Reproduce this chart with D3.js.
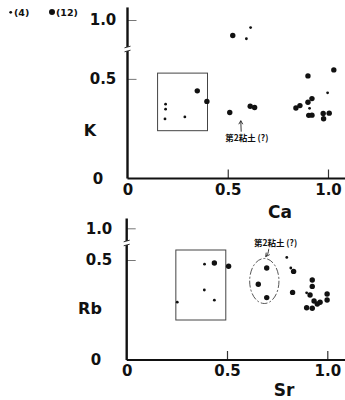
<!DOCTYPE html>
<html>
<head>
<meta charset="utf-8">
<script src="https://cdn.jsdelivr.net/npm/d3@7"></script>
<style>
  html, body { margin: 0; padding: 0; background: #fff; }
  svg { display: block; }
  text { font-family: "DejaVu Sans", sans-serif; fill: #111; }
</style>
</head>
<body>
<svg id="chart" width="345" height="400"></svg>
<script>
// ---------- data ----------
// Top panel: K vs Ca
const caSmall = [0.190, 0.190, 0.187, 0.286, 0.593, 0.614, 0.908, 0.998];
const kSmall  = [0.373, 0.348, 0.299, 0.309, 0.903, 0.961, 0.352, 0.430];
const caBig = [0.348, 0.396, 0.510, 0.612, 0.634, 0.525, 0.900, 1.029, 0.920, 0.900, 0.860, 0.840, 0.904, 0.920, 0.976, 1.006, 0.978];
const kBig  = [0.440, 0.387, 0.331, 0.363, 0.356, 0.920, 0.515, 0.545, 0.401, 0.383, 0.366, 0.354, 0.317, 0.318, 0.326, 0.328, 0.300];
const caBox = [0.150, 0.399];
const kBox  = [0.240, 0.529];

// Bottom panel: Rb vs Sr
const srSmall = [0.388, 0.387, 0.437, 0.252, 0.798, 0.818, 0.897];
const rbSmall = [0.479, 0.350, 0.299, 0.289, 0.513, 0.460, 0.336];
const srBig = [0.437, 0.508, 0.698, 0.656, 0.698, 0.832, 0.827, 0.925, 0.925, 0.914, 0.934, 0.950, 0.964, 0.999, 0.999, 0.897, 0.925];
const rbBig = [0.485, 0.469, 0.460, 0.379, 0.312, 0.443, 0.338, 0.400, 0.368, 0.325, 0.295, 0.280, 0.289, 0.330, 0.300, 0.261, 0.259];
const srBox = [0.245, 0.494];
const rbBox = [0.200, 0.550];
const srEllipse = [0.686, 0.073];   // centre, half-width
const rbEllipse = [0.395, 0.1125];  // centre, half-height

const xTicks = [0, 0.5, 1.0];
const xTickLabels = ["0", "0.5", "1.0"];
const yTicks = [0, 0.5, 1.0];
const yTickLabels = ["0", "0.5", "1.0"];
const legendLabels = ["(4)", "(12)"];
const noteText = "第2粘土 (?)";

// ---------- drawing ----------
const svg = d3.select("#chart");

function panel(cfg) {
  const g = svg.append("g");
  const x = cfg.x, y = cfg.y;

  // x axis (ticks upward)
  const xAxis = d3.axisBottom(x).tickValues(xTicks)
    .tickFormat((d, i) => xTickLabels[i]).tickSize(-9).tickPadding(5);
  const gx = g.append("g").attr("transform", `translate(0,${y(0)})`).call(xAxis);
  gx.select(".domain").remove();
  gx.selectAll(".tick line").attr("stroke", "#333").attr("stroke-width", 1.2)
    .filter(d => d === 0).remove();
  gx.selectAll(".tick text").attr("font-size", 15).attr("font-weight", "bold")
    .attr("dy", "0.75em").attr("fill", "#111");
  g.append("line").attr("x1", x(0)).attr("x2", 345).attr("y1", y(0)).attr("y2", y(0))
    .attr("stroke", "#111").attr("stroke-width", 2.2);

  // y axis (ticks rightward)
  const yAxis = d3.axisLeft(y).tickValues(yTicks)
    .tickFormat((d, i) => yTickLabels[i]).tickSize(-9).tickPadding(0);
  const gy = g.append("g").attr("transform", `translate(${x(0)},0)`).call(yAxis);
  gy.select(".domain").remove();
  gy.selectAll(".tick line").attr("stroke", "#777").attr("stroke-width", 1)
    .filter(d => d === 0).remove();
  gy.selectAll(".tick text").attr("font-size", 15).attr("font-weight", "bold")
    .attr("text-anchor", "middle").attr("fill", "#111")
    .attr("x", d => d === 0 ? cfg.zeroX - x(0) : cfg.labX - x(0));

  // y axis line with break
  const yb = cfg.breakY;
  g.append("line").attr("x1", x(0)).attr("x2", x(0)).attr("y1", y(0)).attr("y2", yb + 2)
    .attr("stroke", "#111").attr("stroke-width", 2.4);
  g.append("line").attr("x1", x(0)).attr("x2", x(0)).attr("y1", yb - 2).attr("y2", cfg.axisTop)
    .attr("stroke", "#111").attr("stroke-width", 2.4);
  [yb - 2, yb + 2].forEach(v => {
    g.append("line").attr("x1", x(0) - 3).attr("x2", x(0) + 3).attr("y1", v + 0.8).attr("y2", v - 0.8)
      .attr("stroke", "#333").attr("stroke-width", 1);
  });

  // labels
  g.append("text").attr("x", cfg.yLabelX).attr("y", cfg.yLabelY).attr("text-anchor", "middle")
    .attr("dy", "0.36em").attr("font-size", 16).attr("font-weight", "bold").text(cfg.yLabel);
  g.append("text").attr("x", cfg.xLabelX).attr("y", cfg.xLabelY).attr("text-anchor", "middle")
    .attr("dy", "0.36em").attr("font-size", 17).attr("font-weight", "bold").text(cfg.xLabel);

  // box
  g.append("rect")
    .attr("x", x(cfg.boxX[0])).attr("y", y(cfg.boxY[1]))
    .attr("width", x(cfg.boxX[1]) - x(cfg.boxX[0]))
    .attr("height", y(cfg.boxY[0]) - y(cfg.boxY[1]))
    .attr("fill", "none").attr("stroke", "#444").attr("stroke-width", 1);

  // points
  g.selectAll(".sm").data(cfg.xs.map((v, i) => [v, cfg.ys[i]])).join("circle")
    .attr("cx", d => x(d[0])).attr("cy", d => y(d[1])).attr("r", 1.4).attr("fill", "#111");
  g.selectAll(".bg").data(cfg.xb.map((v, i) => [v, cfg.yb[i]])).join("circle")
    .attr("cx", d => x(d[0])).attr("cy", d => y(d[1])).attr("r", 2.7).attr("fill", "#111");
  return g;
}

// Top panel scales
const xTop = d3.scaleLinear().domain([0, 1]).range([127.5, 328]);
const yTop = d3.scaleLinear().domain([0, 0.65, 0.85, 1.0]).range([178.5, 49, 49, 20]);
const gTop = panel({
  x: xTop, y: yTop, breakY: yTop(0.75), axisTop: yTop(1.065),
  labX: 103, zeroX: 98, yLabel: "K", yLabelX: 90, yLabelY: 130,
  xLabel: "Ca", xLabelX: 280, xLabelY: 212,
  boxX: caBox, boxY: kBox, xs: caSmall, ys: kSmall, xb: caBig, yb: kBig
});

// Top annotation
gTop.append("text").attr("x", xTop(0.595)).attr("y", yTop(0.203)).attr("text-anchor", "middle")
  .attr("dy", "0.36em").attr("font-size", 8.5).attr("font-weight", "bold")
  .style("font-family", "'Noto Sans CJK JP', sans-serif").text(noteText);
gTop.append("path")
  .attr("d", d3.line()([[xTop(0.567), yTop(0.235)], [xTop(0.565), yTop(0.29)]]))
  .attr("stroke", "#222").attr("stroke-width", 0.9).attr("fill", "none");
gTop.append("path")
  .attr("d", d3.line()([[xTop(0.565) - 2, yTop(0.29) + 3.5], [xTop(0.565), yTop(0.29)], [xTop(0.565) + 2, yTop(0.29) + 3.5]]))
  .attr("stroke", "#222").attr("stroke-width", 0.9).attr("fill", "none");

// Bottom panel scales
const xBot = d3.scaleLinear().domain([0, 1]).range([126.7, 327.3]);
const yBot = d3.scaleLinear().domain([0, 0.585, 0.925, 1.0]).range([360, 243, 243, 228.3]);
const gBot = panel({
  x: xBot, y: yBot, breakY: 243, axisTop: yBot(1.05),
  labX: 99, zeroX: 96, yLabel: "Rb", yLabelX: 90, yLabelY: 308,
  xLabel: "Sr", xLabelX: 284, xLabelY: 390,
  boxX: srBox, boxY: rbBox, xs: srSmall, ys: rbSmall, xb: srBig, yb: rbBig
});

// Bottom ellipse & annotation
gBot.append("ellipse")
  .attr("cx", xBot(srEllipse[0])).attr("cy", yBot(rbEllipse[0]))
  .attr("rx", xBot(srEllipse[0] + srEllipse[1]) - xBot(srEllipse[0]))
  .attr("ry", yBot(rbEllipse[0] - rbEllipse[1]) - yBot(rbEllipse[0]))
  .attr("fill", "none").attr("stroke", "#444").attr("stroke-width", 0.9)
  .attr("stroke-dasharray", "7,2,2,2");
gBot.append("text").attr("x", xBot(0.742)).attr("y", yBot(0.583)).attr("text-anchor", "middle")
  .attr("dy", "0.36em").attr("font-size", 8.5).attr("font-weight", "bold")
  .style("font-family", "'Noto Sans CJK JP', sans-serif").text(noteText);
const aS = [xBot(0.708), yBot(0.556)], aE = [xBot(0.693), yBot(0.517)];
gBot.append("path")
  .attr("d", d3.line().curve(d3.curveBasis)([aS, [aS[0] - 0.5, (aS[1] + aE[1]) / 2 + 1], aE]))
  .attr("stroke", "#222").attr("stroke-width", 0.9).attr("fill", "none");
gBot.append("path")
  .attr("d", d3.line()([[aE[0] + 0.5, aE[1] - 4], aE, [aE[0] + 4, aE[1] - 2]]))
  .attr("stroke", "#222").attr("stroke-width", 0.9).attr("fill", "none");

// Legend
const leg = svg.append("g");
leg.append("circle").attr("cx", 10.7).attr("cy", 12.3).attr("r", 1.4).attr("fill", "#111");
leg.append("text").attr("x", 14).attr("y", 12.3).attr("dy", "0.36em").attr("font-size", 9.5)
  .attr("font-weight", "bold").text(legendLabels[0]);
leg.append("circle").attr("cx", 52).attr("cy", 12).attr("r", 3).attr("fill", "#111");
leg.append("text").attr("x", 56).attr("y", 12.3).attr("dy", "0.36em").attr("font-size", 9.5)
  .attr("font-weight", "bold").text(legendLabels[1]);
</script>
</body>
</html>
